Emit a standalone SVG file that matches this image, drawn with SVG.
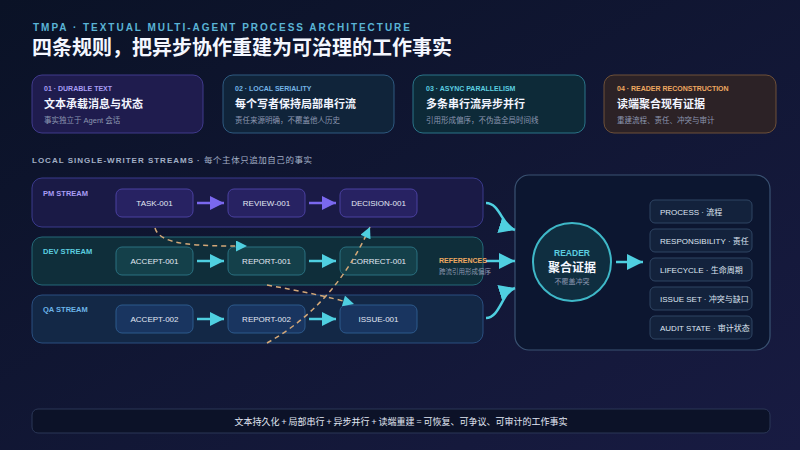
<svg xmlns="http://www.w3.org/2000/svg" width="800" height="450" viewBox="0 0 800 450">
<defs>
<linearGradient id="bg" x1="0" y1="0" x2="1" y2="1">
<stop offset="0" stop-color="#0a1226"/>
<stop offset="1" stop-color="#181b42"/>
</linearGradient>
<marker id="mp" viewBox="0 0 10 10" refX="10" refY="5" markerWidth="15" markerHeight="14" markerUnits="userSpaceOnUse" orient="auto"><path d="M0,0 L10,5 L0,10 z" fill="#7a68ee"/></marker>
<marker id="mc" viewBox="0 0 10 10" refX="10" refY="5" markerWidth="15" markerHeight="14" markerUnits="userSpaceOnUse" orient="auto"><path d="M0,0 L10,5 L0,10 z" fill="#4fcfe0"/></marker>
<marker id="mr" viewBox="0 0 10 10" refX="10" refY="5" markerWidth="16" markerHeight="17" markerUnits="userSpaceOnUse" orient="auto"><path d="M0,0 L10,5 L0,10 z" fill="#4fcfe0"/></marker>
<marker id="mb" viewBox="0 0 10 10" refX="10" refY="5" markerWidth="16" markerHeight="18" markerUnits="userSpaceOnUse" orient="auto"><path d="M0,0 L10,5 L0,10 z" fill="#4fcfe0"/></marker>
<marker id="md" viewBox="0 0 10 10" refX="10" refY="5" markerWidth="12" markerHeight="11" markerUnits="userSpaceOnUse" orient="auto"><path d="M0,0 L10,5 L0,10 z" fill="#4fcfe0"/></marker>
</defs>
<style>
text{font-family:"Liberation Sans","Noto Sans CJK SC",sans-serif}
.cjk{font-family:"Noto Sans CJK SC","Liberation Sans",sans-serif}
.lab{font-size:7px;font-weight:bold}
.ct{font-size:11px;font-weight:bold;fill:#f2f5ff}
.cs{font-size:7.5px;fill:#8c97b0}
.sl{font-size:7.5px;font-weight:bold}
.nt{font-size:8px;fill:#e2e8f4;text-anchor:middle}
.li{font-size:8px;fill:#dfe6f2}
.item{fill:#13223c;stroke:#2f4563;stroke-width:1}
.dash{fill:none;stroke:#d4a878;stroke-width:1.5;stroke-dasharray:5 4}
.pa{stroke:#7a68ee;stroke-width:2.5;fill:none}
.ca{stroke:#4fcfe0;stroke-width:2.5;fill:none}
</style>
<rect width="800" height="450" fill="url(#bg)"/>

<text x="33" y="31" font-size="10" font-weight="bold" fill="#5ab4d6" textLength="377" lengthAdjust="spacing">TMPA · TEXTUAL MULTI-AGENT PROCESS ARCHITECTURE</text>
<text x="32" y="55" class="cjk" font-size="20" font-weight="bold" fill="#f4f7ff">四条规则，把异步协作重建为可治理的工作事实</text>

<g id="card1">
<rect x="32" y="75" width="171" height="58" rx="10" fill="#1f1c4e" stroke="#403a8c"/>
<text x="44" y="91" class="lab" fill="#a89cf4">01 · DURABLE TEXT</text>
<text x="44" y="108" class="ct cjk">文本承载消息与状态</text>
<text x="44" y="123" class="cs">事实独立于 Agent 会话</text>
</g>
<g id="card2">
<rect x="223" y="75" width="171" height="58" rx="10" fill="#10243a" stroke="#2e5a80"/>
<text x="235" y="91" class="lab" fill="#74b4e6">02 · LOCAL SERIALITY</text>
<text x="235" y="108" class="ct cjk">每个写者保持局部串行流</text>
<text x="235" y="123" class="cs">责任来源明确，不覆盖他人历史</text>
</g>
<g id="card3">
<rect x="413" y="75" width="172" height="58" rx="10" fill="#0d2a38" stroke="#2a7488"/>
<text x="426" y="91" class="lab" fill="#5ccfe0">03 · ASYNC PARALLELISM</text>
<text x="426" y="108" class="ct cjk">多条串行流异步并行</text>
<text x="426" y="123" class="cs">引用形成偏序，不伪造全局时间线</text>
</g>
<g id="card4">
<rect x="604" y="75" width="172" height="58" rx="10" fill="#2c2226" stroke="#6e5038"/>
<text x="617" y="91" class="lab" fill="#eea860">04 · READER RECONSTRUCTION</text>
<text x="617" y="108" class="ct cjk">读端聚合现有证据</text>
<text x="617" y="123" class="cs">重建流程、责任、冲突与审计</text>
</g>

<text x="32" y="163" font-size="8" font-weight="bold" fill="#a2afc6" textLength="161" lengthAdjust="spacing">LOCAL SINGLE-WRITER STREAMS</text>
<text x="197" y="163" font-size="8" font-weight="bold" fill="#a2afc6">·</text>
<text x="204" y="163" class="cjk" font-size="8.5" fill="#a2afc6" textLength="108" lengthAdjust="spacing">每个主体只追加自己的事实</text>

<g id="pm-stream">
<rect x="32" y="178" width="451" height="49" rx="10" fill="#1a1a46" stroke="#3a3a8c"/>
<text x="43" y="196" class="sl" fill="#a89cf4">PM STREAM</text>
</g>
<g id="dev-stream">
<rect x="32" y="237" width="451" height="48" rx="10" fill="#0f2e3a" stroke="#246878"/>
<text x="43" y="254" class="sl" fill="#5ccfe0">DEV STREAM</text>
</g>
<g id="qa-stream">
<rect x="32" y="295" width="451" height="48" rx="10" fill="#132846" stroke="#2a4f80"/>
<text x="43" y="312" class="sl" fill="#6cb4e8">QA STREAM</text>
</g>

<g id="task-001"><rect x="116" y="189" width="77" height="28" rx="6" fill="#272262" stroke="#4a40a0"/><text x="154.5" y="206" class="nt">TASK-001</text></g>
<g id="review-001"><rect x="228" y="189" width="77" height="28" rx="6" fill="#272262" stroke="#4a40a0"/><text x="266.5" y="206" class="nt">REVIEW-001</text></g>
<g id="decision-001"><rect x="340" y="189" width="77" height="28" rx="6" fill="#272262" stroke="#4a40a0"/><text x="378.5" y="206" class="nt">DECISION-001</text></g>
<g id="accept-001"><rect x="116" y="247" width="77" height="28" rx="6" fill="#14404a" stroke="#2a7080"/><text x="154.5" y="264" class="nt">ACCEPT-001</text></g>
<g id="report-001"><rect x="228" y="247" width="77" height="28" rx="6" fill="#14404a" stroke="#2a7080"/><text x="266.5" y="264" class="nt">REPORT-001</text></g>
<g id="correct-001"><rect x="340" y="247" width="77" height="28" rx="6" fill="#14404a" stroke="#2a7080"/><text x="378.5" y="264" class="nt">CORRECT-001</text></g>
<g id="accept-002"><rect x="116" y="305" width="77" height="28" rx="6" fill="#193560" stroke="#2d5a8c"/><text x="154.5" y="322" class="nt">ACCEPT-002</text></g>
<g id="report-002"><rect x="228" y="305" width="77" height="28" rx="6" fill="#193560" stroke="#2d5a8c"/><text x="266.5" y="322" class="nt">REPORT-002</text></g>
<g id="issue-001"><rect x="340" y="305" width="77" height="28" rx="6" fill="#193560" stroke="#2d5a8c"/><text x="378.5" y="322" class="nt">ISSUE-001</text></g>

<g id="reader-panel">
<rect x="515" y="175" width="255" height="175" rx="14" fill="#0c1630" stroke="#3a5272" stroke-width="1.2"/>
</g>
<g id="reader">
<circle cx="572" cy="262" r="39" fill="#0f2e40" stroke="#3fb8c8" stroke-width="2"/>
<text x="572" y="256" text-anchor="middle" font-size="8.5" font-weight="bold" fill="#5ccfe0">READER</text>
<text x="572" y="272" text-anchor="middle" class="cjk" font-size="12" font-weight="bold" fill="#f4f7ff">聚合证据</text>
<text x="572" y="284" text-anchor="middle" class="cjk" font-size="7" fill="#8c97b0">不覆盖冲突</text>
</g>
<g id="out-process"><rect x="650" y="200" width="102" height="23" rx="5" class="item"/><text x="660" y="214.5" class="li">PROCESS · 流程</text></g>
<g id="out-responsibility"><rect x="650" y="229" width="102" height="23" rx="5" class="item"/><text x="660" y="243.5" class="li">RESPONSIBILITY · 责任</text></g>
<g id="out-lifecycle"><rect x="650" y="258" width="102" height="23" rx="5" class="item"/><text x="660" y="272.5" class="li">LIFECYCLE · 生命周期</text></g>
<g id="out-issueset"><rect x="650" y="287" width="102" height="23" rx="5" class="item"/><text x="660" y="301.5" class="li">ISSUE SET · 冲突与缺口</text></g>
<g id="out-audit"><rect x="650" y="316" width="102" height="23" rx="5" class="item"/><text x="660" y="330.5" class="li">AUDIT STATE · 审计状态</text></g>

<g id="connectors">
<line x1="197" y1="203" x2="224" y2="203" class="pa" marker-end="url(#mp)"/>
<line x1="309" y1="203" x2="336" y2="203" class="pa" marker-end="url(#mp)"/>
<line x1="197" y1="261" x2="224" y2="261" class="ca" marker-end="url(#mc)"/>
<line x1="309" y1="261" x2="336" y2="261" class="ca" marker-end="url(#mc)"/>
<line x1="197" y1="319" x2="224" y2="319" class="ca" marker-end="url(#mc)"/>
<line x1="309" y1="319" x2="336" y2="319" class="ca" marker-end="url(#mc)"/>
<path d="M155,228 C160,246 200,246 247,246" class="dash" marker-end="url(#md)"/>
<path d="M267,285 C300,291 330,297 354,304" class="dash" marker-end="url(#md)"/>
<path d="M267,343 Q335,305 370,227" class="dash" marker-end="url(#md)"/>
<path d="M486,203 C500,203 502,226 515,230" class="ca" stroke-width="2" marker-end="url(#mr)"/>
<line x1="486" y1="261" x2="515" y2="261" class="ca" stroke-width="2" marker-end="url(#mr)"/>
<path d="M486,318 C500,318 502,292 515,288" class="ca" stroke-width="2" marker-end="url(#mr)"/>
<line x1="616" y1="262" x2="643" y2="262" class="ca" marker-end="url(#mb)"/>
</g>

<g id="references-label">
<text x="439" y="263" font-size="7" font-weight="bold" fill="#eea860">REFERENCES</text>
<text x="439" y="274" class="cjk" font-size="6.5" fill="#8c97b0">跨流引用形成偏序</text>
</g>

<g id="summary">
<rect x="32" y="409" width="738" height="24" rx="6" fill="#0c1228" stroke="#2a3656"/>
<text x="401" y="424.5" text-anchor="middle" class="cjk" font-size="9" fill="#e2e8f4">文本持久化 + 局部串行 + 异步并行 + 读端重建 = 可恢复、可争议、可审计的工作事实</text>
</g>
</svg>
